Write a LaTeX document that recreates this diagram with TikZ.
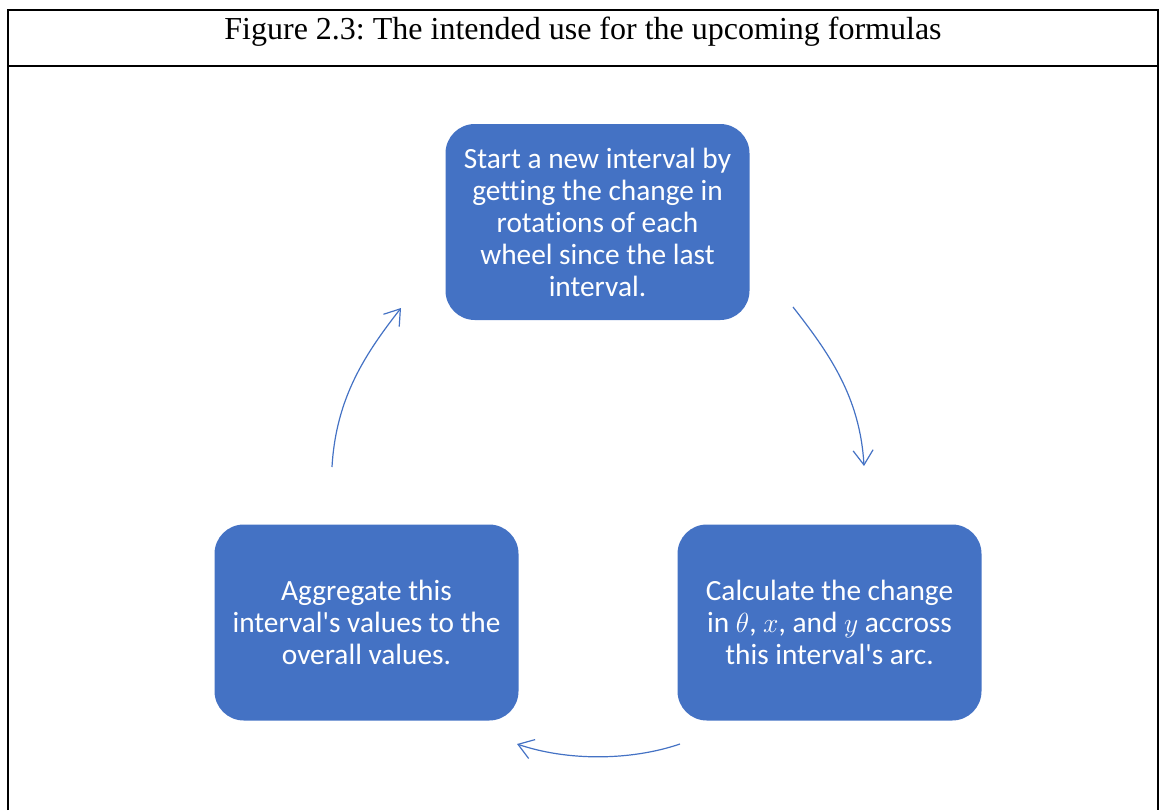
\documentclass[tikz,border=0pt]{standalone}
\usepackage{amsmath}
\usepackage{fontspec}
\setmainfont{Liberation Serif}
\newfontfamily\boxfont{Carlito}[Ligatures=NoCommon]
\usetikzlibrary{arrows.meta}
\definecolor{officeblue}{HTML}{4472C4}
\frenchspacing

\begin{document}
\begin{tikzpicture}[
        x=0.75pt, y=-0.75pt,
        stepbox/.style={rectangle, rounded corners=22pt, fill=officeblue, text=white,
            minimum width=228pt, minimum height=147pt, align=center,
            font=\boxfont\fontsize{22}{24}\selectfont},
        cycle arrow/.style={draw=officeblue, line width=0.9pt,
            -{Straight Barb[length=11pt, width=15pt]}},
        frame/.style={draw=black, line width=1.5pt}
        ]

        \useasboundingbox (0,0) rectangle (1159,810);

        % Table frame
        \draw[frame] (8,810) -- (8,10) -- (1157.5,10) -- (1157.5,810);
        \draw[frame] (8,65.5) -- (1157.5,65.5);
        \node[anchor=base, font=\fontsize{24}{28}\selectfont] (title) at (583,39)
            {Figure 2.3: The intended use for the upcoming formulas};

        % Steps
        \node[stepbox] (start) at (597.5,222)
            {Start a new interval by\\getting the change in\\rotations of each\\wheel since the last\\interval.};
        \node[stepbox] (calc) at (829.5,622.5)
            {Calculate the change\\in $\theta$, $x$, and $y$ accross\\this interval\textquotesingle s arc.};
        \node[stepbox] (aggr) at (366.5,622.5)
            {Aggregate this\\interval\textquotesingle s values to the\\overall values.};

        % Arrow ends
        \coordinate (start-out) at (793,307);
        \coordinate (calc-in) at (864,466);
        \coordinate (calc-out) at (680,744);
        \coordinate (aggr-in) at (517,744);
        \coordinate (aggr-out) at (332,467);
        \coordinate (start-in) at (401,308);

        % Cycle
        \draw[cycle arrow] (start-out) .. controls +(35,45) and +(-4,-70) .. (calc-in);
        \draw[cycle arrow] (calc-out) .. controls +(-50,17) and +(50,17) .. (aggr-in);
        \draw[cycle arrow] (aggr-out) .. controls +(4,-70) and +(-35,45) .. (start-in);
    \end{tikzpicture}
\end{document}
